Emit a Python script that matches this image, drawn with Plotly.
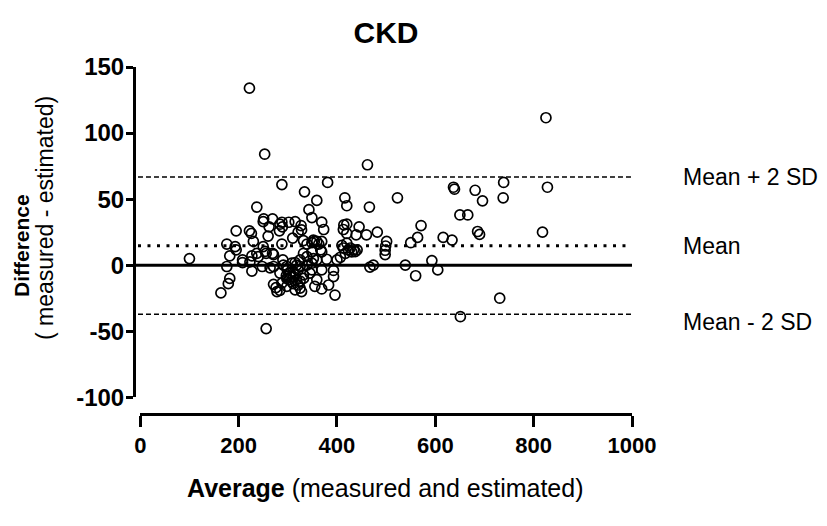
import plotly.graph_objects as go

# ---- data ----
average = [
    100, 164, 176, 176, 179, 182, 182, 193, 195, 195, 208, 208, 222, 222, 226, 230, 227, 227, 223,
    237, 237, 240, 248, 251, 250, 253, 250, 254, 256, 256, 260, 262, 264, 269, 269, 271, 271, 271,
    276, 278, 283, 284, 288, 288, 289, 288, 290, 291, 284, 288, 284, 298, 298, 298, 302, 305, 308,
    308, 310, 311, 311, 315, 315, 318, 318, 321, 321, 321, 325, 325, 325, 327, 328, 328, 332, 332,
    332, 334, 339, 339, 339, 343, 349, 349, 349, 349, 345, 352, 352, 354, 359, 359, 363, 367, 369,
    369, 369, 369, 369, 373, 379, 381, 383, 393, 393, 396, 400, 407, 410, 413, 413, 414, 416, 417,
    420, 420, 420, 423, 427, 430, 434, 437, 439, 441, 445, 460, 462, 466, 467, 474, 482, 501, 499,
    498, 498, 523, 539, 550, 560, 564, 571, 593, 605, 616, 634, 637, 639, 650, 651, 666, 681, 686,
    690, 696, 731, 738, 739, 818, 825, 828,
    420, 359, 315, 315, 332, 355, 359, 349, 306, 302, 311, 325, 299, 297,
]
difference = [
    5, -21, 16, -1, -14, -10, 7, 14, 11.6, 26, 4, 2, 134, 26, 24, 18, -4.5, 7, 2.5,
    44, 9, 6.5, -1, 35, 33, 84, 14, 10.5, 9, -48, 22, 29, -2, 35, 9, 8, -1, -14.5,
    -17, -20, 26, 31, 61, 32.5, 29, 16, 4, 0, -6, -13.6, -19, -1, -10, -16, 32.5, -6, 1.5,
    -12.5, 20.5, -8.6, -5, -18.7, 33, 0, -11, 25, -3.6, -15, 4, -1, -17.4, 30, 26.7, -20, 18.6, 9,
    -7.3, 55.5, 16, 6.5, 0, 42, 36, 17, 10, 1.5, -6, 19, 5, 18, 49, 18, 16, 11.6, 32.6,
    18, 10, -3.6, -18, 27, 4.5, 62.6, -15, -4, -8.6, -22.6, 4, 6, 15, 27, 13, 30.5, 51, 9,
    45, 24, 16.7, 11.6, 13, 10, 11.6, 10.3, 23, 11.6, 29, 23, 76, 44, -1.5, 0, 25, 18, 14.5,
    11.3, 8, 51, 0, 17, -8, 21, 30, 3.5, -3.6, 21, 19, 59, 57.5, 38, -39, 38, 56.7, 25.5,
    23.3, 48.7, -25, 51, 62.6, 25, 111.6, 59,
    31, 4, 2, -6.5, -10, -16, -11, -3.6, -9, -11, -14, -12, -3.6, -8,
]

mean_diff = 14.8
upper_limit = 66.7   # Mean + 2 SD
lower_limit = -37.1  # Mean - 2 SD

x_ticks = [0, 200, 400, 600, 800, 1000]
x_tick_labels = ["0", "200", "400", "600", "800", "1000"]
y_ticks = [-100, -50, 0, 50, 100, 150]
y_tick_labels = ["-100", "-50", "0", "50", "100", "150"]
x_range = [0, 1000]
y_range = [-100, 150]

FONT = "Liberation Sans, Arial, Helvetica, sans-serif"

# plot area in page pixels: x 134..632, y 67..414 (page has 8px body margin)
PL, PW, PT, PH = 134, 498, 67, 347


def px_x(p):
    return (p - PL) / PW


def px_y(p):
    return (PT + PH - p) / PH


fig = go.Figure()
fig.add_trace(go.Scatter(
    x=average, y=difference, mode="markers",
    marker=dict(symbol="circle-open", size=10, color="black", line=dict(width=1.7, color="black")),
    hoverinfo="x+y", showlegend=False, cliponaxis=False,
))

# reference lines
fig.add_shape(type="line", xref="paper", yref="y", x0=0, x1=1, y0=0, y1=0,
              line=dict(color="black", width=3), layer="below")
fig.add_shape(type="line", xref="paper", yref="y", x0=0.008, x1=1, y0=mean_diff, y1=mean_diff,
              line=dict(color="black", width=3, dash="3px,6.5px"), layer="below")
for lim in (upper_limit, lower_limit):
    fig.add_shape(type="line", xref="paper", yref="y", x0=0.008, x1=1, y0=lim, y1=lim,
                  line=dict(color="black", width=1.5, dash="5px,3px"), layer="below")

# line labels
labels = [("Mean + 2 SD", upper_limit, 0), ("Mean", mean_diff, 0), ("Mean - 2 SD", lower_limit, -8)]
for txt, yv, shift in labels:
    fig.add_annotation(x=px_x(681), y=yv, xref="paper", yref="y", text=txt, showarrow=False,
                       xanchor="left", yanchor="middle", yshift=shift,
                       font=dict(family=FONT, size=23, color="black"))

# axis titles as annotations
fig.add_annotation(xref="paper", yref="paper", x=px_x(385), y=px_y(488),
                   text="<b>Average</b> (measured and estimated)", showarrow=False,
                   xanchor="center", yanchor="middle",
                   font=dict(family=FONT, size=25, color="black"))
fig.add_annotation(xref="paper", yref="paper", x=px_x(22), y=px_y(246),
                   text="<b>Difference</b>", showarrow=False, textangle=-90,
                   xanchor="center", yanchor="middle",
                   font=dict(family=FONT, size=21, color="black"))
fig.add_annotation(xref="paper", yref="paper", x=px_x(45), y=px_y(218),
                   text="( measured - estimated)", showarrow=False, textangle=-90,
                   xanchor="center", yanchor="middle",
                   font=dict(family=FONT, size=23, color="black"))

W, H = 819, 518
fig.update_layout(
    width=W, height=H,
    margin=dict(l=PL - 8, r=W - (PL - 8) - PW, t=PT - 8, b=H - (PT - 8) - PH),
    paper_bgcolor="white", plot_bgcolor="white",
    title=dict(text="<b>CKD</b>", x=(386 - 8) / W, y=1 - (32 - 8) / H, xref="container", yref="container",
               xanchor="center", yanchor="middle",
               font=dict(family=FONT, size=30, color="black")),
    xaxis=dict(range=x_range, domain=[0.0126, 1], anchor="free", position=0,
               tickvals=x_ticks, ticktext=x_tick_labels,
               ticks="outside", ticklen=11, tickwidth=3, tickcolor="black",
               showline=True, linewidth=3, linecolor="black", showgrid=False, zeroline=False,
               tickfont=dict(family=FONT, size=22, color="black", weight="bold")),
    yaxis=dict(range=y_range, domain=[(414 - 397.3) / PH, 1], anchor="free", position=0,
               tickvals=y_ticks, ticktext=y_tick_labels,
               ticks="outside", ticklen=7, tickwidth=3, tickcolor="black", ticklabelstandoff=-3,
               showline=True, linewidth=3, linecolor="black", showgrid=False, zeroline=False,
               tickfont=dict(family=FONT, size=24, color="black", weight="bold")),
)

fig.write_html("out.html")
